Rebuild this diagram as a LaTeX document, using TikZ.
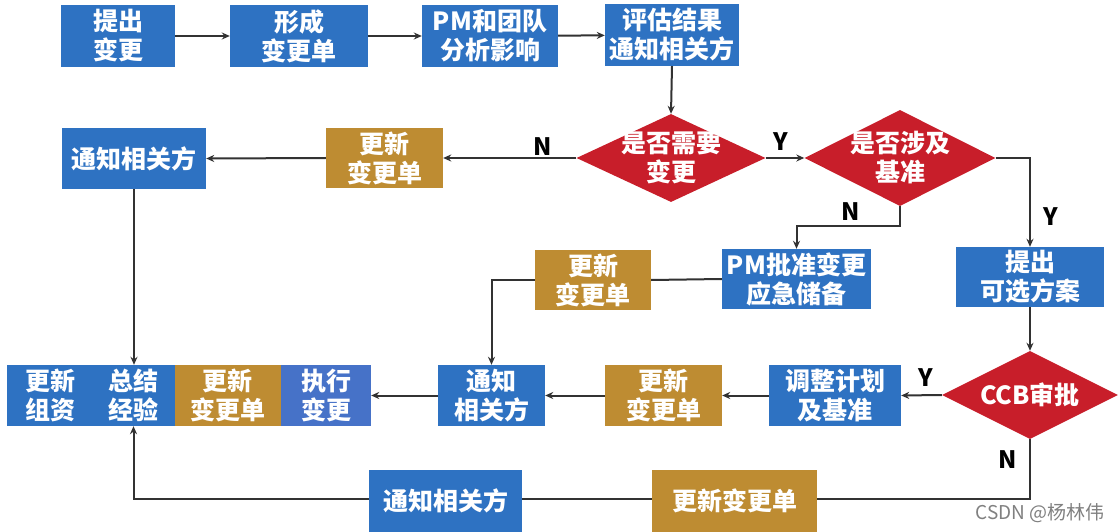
\documentclass[tikz,border=0pt]{standalone}
\usepackage{fontspec}
\setmainfont{Noto Sans CJK SC}
\usetikzlibrary{shapes.geometric,arrows.meta,backgrounds}
\definecolor{bbox}{RGB}{46,114,194}
\definecolor{bbox2}{RGB}{70,114,200}
\definecolor{gbox}{RGB}{190,140,50}
\definecolor{rdia}{RGB}{200,30,42}
\definecolor{lin}{RGB}{50,50,50}
\tikzset{
  boxbase/.style={rectangle, inner sep=0pt, text=white, align=center,
    font=\bfseries\fontsize{25}{29}\selectfont},
  bluebox/.style={boxbase, fill=bbox},
  goldbox/.style={boxbase, fill=gbox},
  decision/.style={diamond, inner sep=0pt, fill=rdia, aspect=2},
  dtext/.style={text=white, align=center, inner sep=0pt,
    font=\bfseries\fontsize{25}{29}\selectfont},
  yn/.style={text=black, inner sep=0pt, font=\bfseries\fontsize{24}{26}\selectfont},
  arr/.style={draw=lin, line width=2pt, -{Stealth[length=8pt,width=7pt]}},
  ln/.style={draw=lin, line width=2pt},
}
\begin{document}
\begin{tikzpicture}[x=1pt,y=-1pt]
\useasboundingbox (0,0) rectangle (1120,532);
% top row
\node[bluebox, minimum width=114pt, minimum height=62pt] (n1) at (118,36) {提出\\变更};
\node[bluebox, minimum width=138pt, minimum height=62pt] (n2) at (299,36) {形成\\变更单};
\node[bluebox, minimum width=136pt, minimum height=62pt] (n3) at (490,36) {PM和团队\\分析影响};
\node[bluebox, minimum width=134pt, minimum height=62pt] (n4) at (672,35) {评估结果\\通知相关方};
% row 2
\node[decision, minimum width=189pt, minimum height=88pt] (d1) at (671,158) {};
\node[dtext] (d1t) at (d1) {是否需要\\变更};
\node[decision, minimum width=191pt, minimum height=96pt] (d2) at (900,158) {};
\node[dtext] (d2t) at (d2) {是否涉及\\基准};
\node[goldbox, minimum width=117pt, minimum height=60pt] (g1) at (384.5,158) {更新\\变更单};
\node[bluebox, minimum width=144pt, minimum height=61pt] (b5) at (134,158.5) {通知相关方};
% row 3
\node[bluebox, minimum width=149pt, minimum height=60pt] (b6) at (796.5,279) {PM批准变更\\应急储备};
\node[goldbox, minimum width=116pt, minimum height=60pt] (g2) at (593,280) {更新\\变更单};
\node[bluebox, minimum width=148pt, minimum height=60pt] (b7) at (1030,277) {提出\\可选方案};
% row 4
\node[decision, minimum width=176pt, minimum height=88pt] (d3) at (1030,395) {};
\node[dtext] (d3t) at (d3) {CCB审批};
\node[bluebox, minimum width=132pt, minimum height=61pt] (b8) at (835,395.5) {调整计划\\及基准};
\node[goldbox, minimum width=117pt, minimum height=61pt] (g3) at (663.5,395.5) {更新\\变更单};
\node[bluebox, minimum width=107pt, minimum height=61pt] (b9) at (491.5,395.5) {通知\\相关方};
\node[bluebox, fill=bbox2, minimum width=90pt, minimum height=61pt] (b10) at (326,395.5) {执行\\变更};
\node[goldbox, minimum width=107pt, minimum height=61pt] (g4) at (227.5,395.5) {更新\\变更单};
\node[bluebox, minimum width=82.5pt, minimum height=61pt] (b11) at (133.5,395.5) {总结\\经验};
\node[bluebox, minimum width=85.5pt, minimum height=61pt] (b12) at (50,395.5) {更新\\组资};
% row 5
\node[bluebox, minimum width=153pt, minimum height=62pt] (b13) at (445.5,501) {通知相关方};
\node[goldbox, minimum width=165pt, minimum height=62pt] (g5) at (734.5,501) {更新变更单};
% connectors
\draw[arr] (n1) -- (n2);
\draw[arr] (n2) -- (n3);
\draw[arr] (n3) -- (n4);
\draw[arr] (n4.south) -- (d1.north);
\draw[arr] (d1.west) -- (g1.east);
\draw[arr] (g1.west) -- (b5.east);
\draw[arr] (d1.east) -- (d2.west);
\draw[arr] (d2.east) -| (b7.north);
\draw[arr] (d2.south) -- ++(0,20) -| (b6.north);
\draw[ln] (b6.west) -- (g2.east);
\draw[arr] (g2.west) -| (b9.north);
\draw[arr] (b7.south) -- (d3.north);
\draw[arr] (d3.west) -- (b8.east);
\draw[arr] (b8.west) -- (g3.east);
\draw[arr] (g3.west) -- (b9.east);
\draw[arr] (b9.west) -- (b10.east);
\draw[arr] (b5.south) -- (b5.south |- b11.north);
\begin{scope}[on background layer]
\fill[white] (0,0) rectangle (1120,532);
\draw[arr] (d3.south) -- ++(0,60) coordinate (cb) -| (b11.south);
\end{scope}
% labels
\node[yn] (lN1) at (543,147) {N};
\node[yn] (lY1) at (781,142) {Y};
\node[yn] (lN2) at (851,212) {N};
\node[yn] (lY2) at (1051,217) {Y};
\node[yn] (lY3) at (926,378) {Y};
\node[yn] (lN3) at (1008,460) {N};
\node[text=black!50, inner sep=0pt, font=\fontsize{19}{22}\selectfont] (wm) at (1040,513) {CSDN @杨林伟};
\end{tikzpicture}
\end{document}
